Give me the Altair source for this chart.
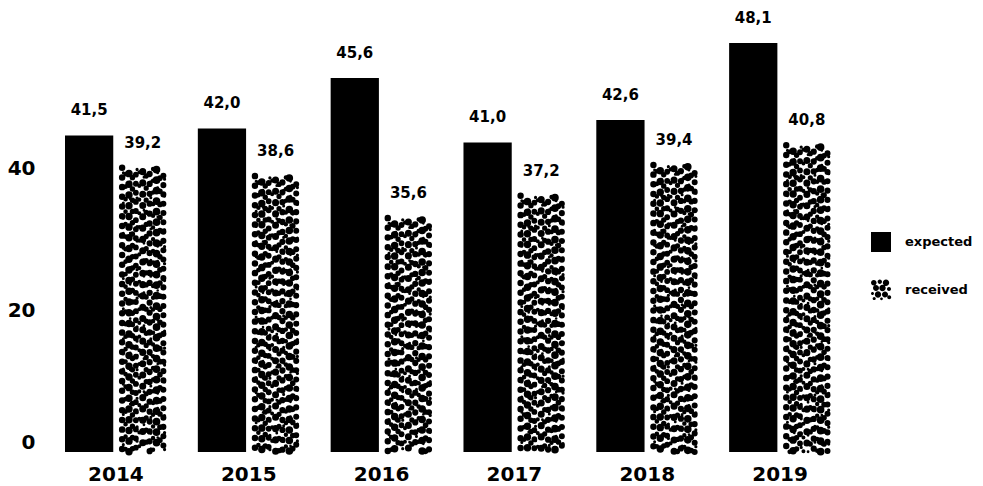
import altair as alt
import pandas as pd

# ---- data ----
YEARS = ["2014", "2015", "2016", "2017", "2018", "2019"]
EXPECTED = [41.5, 42.0, 45.6, 41.0, 42.6, 48.1]
RECEIVED = [39.2, 38.6, 35.6, 37.2, 39.4, 40.8]
SERIES = ["expected", "received"]
Y_TICKS = [0, 20, 40]

rows = []
for yr, e, r in zip(YEARS, EXPECTED, RECEIVED):
    rows.append({"year": yr, "series": SERIES[0], "value": e})
    rows.append({"year": yr, "series": SERIES[1], "value": r})
df = pd.DataFrame(rows)
df_exp = df[df.series == SERIES[0]]
df_rec = df[df.series == SERIES[1]]

# ---- layout / scale settings ----
W, H = 800, 442
FONT = "DejaVu Sans"
PAD_INNER, PAD_OUTER, SUB_PAD = 0.233, 0.128, 0.1
BAR_BASE = 18.89            # bar scale starts here (bars are not zero based)
BAR_TOP = BAR_BASE + H / 14.0
AXIS_TOP = H / 7.1          # the 0-20-40 axis uses its own scale

xscale = alt.Scale(domain=YEARS, paddingInner=PAD_INNER, paddingOuter=PAD_OUTER)
xaxis = alt.Axis(labelAngle=0, domain=False, ticks=False, tickSize=0, grid=False,
                 labelPadding=12, labelFont=FONT, labelFontSize=20,
                 labelFontWeight="bold", labelColor="black")
xenc = alt.X("year:N", scale=xscale, axis=xaxis, title=None)
xoff = alt.XOffset("series:N", scale=alt.Scale(domain=SERIES, paddingInner=SUB_PAD, paddingOuter=0))
ybar = alt.Scale(domain=[BAR_BASE, BAR_TOP], zero=False, nice=False)

# expected bars (solid black)
bars = alt.Chart(df_exp).mark_bar(color="black").encode(
    x=xenc, xOffset=xoff,
    y=alt.Y("value:Q", scale=ybar, axis=None),
    y2=alt.datum(BAR_BASE),
)

# received bars: dotted texture made of dashed rules with round caps
step = W / (len(YEARS) - PAD_INNER + 2 * PAD_OUTER)
band = step * (1 - PAD_INNER)
sub_step = band / (2 - SUB_PAD)
sub_band = sub_step * (1 - SUB_PAD)
rec_left = -band / 2 + sub_step

BIG_D = [6.4, 7.4, 5.8, 7.0, 6.2, 7.6, 6.0]
BIG_P = [9.6, 10.6, 9.0, 11.2, 9.8, 10.4, 9.2]
BIG_O = [0.0, 4.8, 2.2, 7.4, 3.6, 8.6, 1.2]
MID_D = [4.6, 5.4, 4.0, 5.2, 4.4, 5.6]
MID_P = [12.4, 11.2, 13.6, 12.0, 11.6, 13.0]
MID_O = [6.0, 1.4, 9.2, 3.8, 10.4, 2.6]
SM_D = [3.0, 2.6, 3.2, 2.8, 3.0, 2.6, 3.2]
SM_P = [15.0, 17.0, 14.2, 16.4, 15.6, 14.6, 16.8]
SM_O = [10.0, 3.0, 12.5, 7.0, 1.5, 9.5, 5.5]

gap = (sub_band - 7.0) / (len(BIG_D) - 1)
cols = []
for i, (d, p, o) in enumerate(zip(BIG_D, BIG_P, BIG_O)):
    cols.append((rec_left + 3.5 + i * gap, d, p, o))
for i, (d, p, o) in enumerate(zip(MID_D, MID_P, MID_O)):
    cols.append((rec_left + 3.5 + (i + 0.5) * gap, d, p, o))
for i, (d, p, o) in enumerate(zip(SM_D, SM_P, SM_O)):
    cols.append((rec_left + 3.5 + i * gap + 1.2, d, p, o))

tex_layers = []
for cx, d, p, o in cols:
    tex_layers.append(
        alt.Chart(df_rec).mark_rule(
            color="black", strokeWidth=d, strokeDash=[0.1, p], strokeDashOffset=o,
            strokeCap="round", xOffset=cx,
        ).encode(
            x=xenc,
            y=alt.Y("value:Q", scale=ybar, axis=None),
            y2=alt.datum(BAR_BASE),
        )
    )

# value labels with decimal comma
labels = alt.Chart(df).transform_calculate(
    label="replace(format(datum.value, '.1f'), '.', ',')"
).mark_text(
    font=FONT, fontSize=15, fontWeight="bold", color="black", baseline="middle", dy=-25
).encode(
    x=xenc, xOffset=xoff,
    y=alt.Y("value:Q", scale=ybar, axis=None),
    text="label:N",
)

# legend symbol for the dotted series
circ = [(-0.72, -0.72, 0.28), (-0.12, -0.82, 0.22), (0.5, -0.72, 0.32), (-0.5, -0.2, 0.3),
        (0.15, -0.2, 0.32), (0.8, -0.1, 0.2), (-0.85, 0.35, 0.15), (-0.3, 0.45, 0.32),
        (0.4, 0.45, 0.3), (0.82, 0.72, 0.2), (-0.68, 0.85, 0.16), (0.05, 0.88, 0.14)]
DOTS_PATH = "".join(
    f"M{cx - r:.3f},{cy:.3f}a{r},{r} 0 1,0 {2 * r:.3f},0a{r},{r} 0 1,0 {-2 * r:.3f},0Z"
    for cx, cy, r in circ
)

# invisible layer carrying the 0/20/40 axis and the legend
axis_layer = alt.Chart(df).mark_point(filled=True, opacity=0, color="black", size=10).encode(
    x=xenc,
    y=alt.Y("value:Q", scale=alt.Scale(domain=[0, AXIS_TOP], nice=False, zero=True),
            axis=alt.Axis(values=Y_TICKS, orient="left", domain=False, ticks=False, tickSize=0,
                          grid=False, labelPadding=13, labelFont=FONT, labelFontSize=20,
                          labelFontWeight="bold", labelColor="black", labelFlush=True),
            title=None),
    shape=alt.Shape("series:N", scale=alt.Scale(domain=SERIES, range=["square", DOTS_PATH]),
                    legend=alt.Legend(title=None, orient="none", legendX=823, legendY=222,
                                      padding=0, rowPadding=27, labelOffset=14,
                                      symbolSize=400, symbolOpacity=1, symbolFillColor="black",
                                      symbolStrokeWidth=0, labelFont=FONT, labelFontSize=13,
                                      labelFontWeight="bold", labelColor="black")),
)

chart = alt.layer(bars, *tex_layers, labels, axis_layer).resolve_scale(
    y="independent"
).properties(
    width=W, height=H,
    padding={"left": 40, "top": 2, "right": 127, "bottom": 34},
    autosize=alt.AutoSizeParams(type="none"),
    background="white",
).configure_view(stroke=None)

chart.save("out.html", embed_options={"renderer": "svg", "actions": False})
